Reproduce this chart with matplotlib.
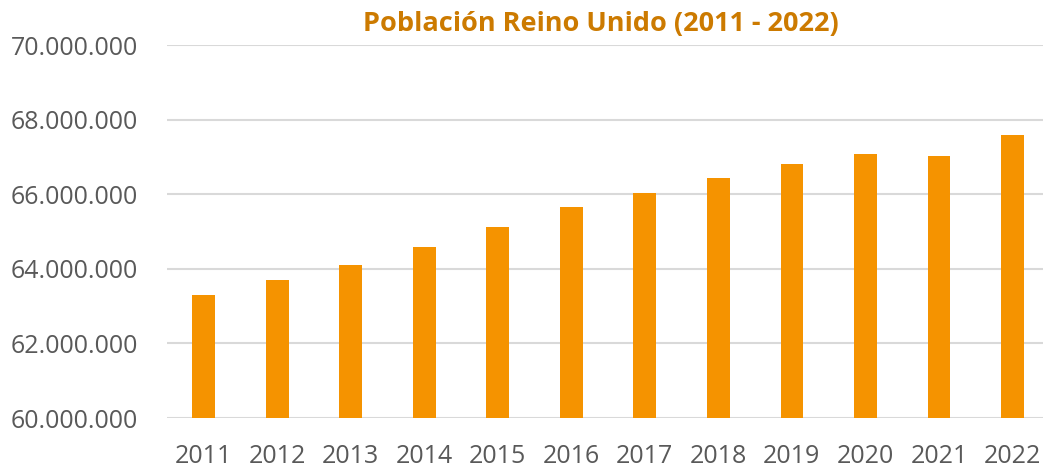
# Población Reino Unido 2011-2022
import matplotlib.pyplot as plt
from matplotlib.ticker import FuncFormatter

anios = ['2011', '2012', '2013', '2014', '2015', '2016',
         '2017', '2018', '2019', '2020', '2021', '2022']
poblacion = [63285000, 63705000, 64106000, 64597000, 65110000, 65648000,
             66040000, 66436000, 66797000, 67081000, 67026000, 67596000]

plt.rcParams['font.family'] = ['Open Sans', 'DejaVu Sans']

fig = plt.figure(figsize=(10.43, 4.69), dpi=100)
ax = fig.add_axes([0.160, 0.1087, 0.846, 0.7953])

ax.bar(range(len(anios)), poblacion, width=0.31, color='#F59300', zorder=3)

ax.set_xlim(-0.5, len(anios) - 0.5)
ax.set_ylim(60000000, 70000000)
ax.set_yticks(range(60000000, 70000001, 2000000))
ax.yaxis.set_major_formatter(FuncFormatter(lambda v, p: f'{int(v):,}'.replace(',', '.')))
ax.set_xticks(range(len(anios)))
ax.set_xticklabels(anios)

ax.grid(axis='y', color='#D9D9D9', linewidth=1.5, zorder=0)
for s in ax.spines.values():
    s.set_visible(False)
ax.tick_params(axis='both', length=0, labelsize=18, labelcolor='#595959')
ax.tick_params(axis='y', pad=21)
ax.tick_params(axis='x', pad=19)

fig.text(0.576, 0.948, 'Población Reino Unido (2011 - 2022)', ha='center', va='center',
         fontsize=19.5, fontweight='bold', color='#CC7A00')

fig.savefig('out.png', dpi=100)
